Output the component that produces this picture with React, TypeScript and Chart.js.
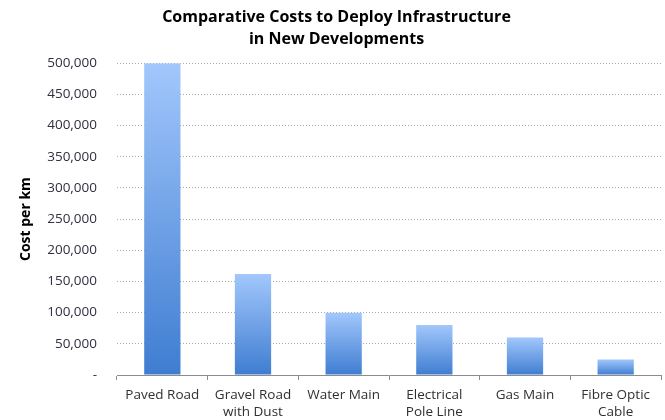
import React, { useEffect, useRef } from "react";
import { Chart, registerables } from "chart.js";

Chart.register(...registerables);

const categories: string[][] = [
  ["Paved Road"],
  ["Gravel Road", "with Dust"],
  ["Water Main"],
  ["Electrical", "Pole Line"],
  ["Gas Main"],
  ["Fibre Optic", "Cable"],
];
const costPerKm: number[] = [500000, 162000, 100000, 80000, 60000, 25000];
const titleLines: string[] = ["Comparative Costs to Deploy Infrastructure", "in New Developments"];
const yAxisTitle = "Cost per km";
const yMax = 500000;
const yStep = 50000;

const FONT = "'Open Sans', Lato, 'DejaVu Sans', sans-serif";

export default function App() {
  const ref = useRef<HTMLCanvasElement | null>(null);

  useEffect(() => {
    document.body.style.margin = "0";
    const canvas = ref.current;
    if (!canvas) return;
    const chart = new Chart(canvas, {
      type: "bar",
      data: {
        labels: categories,
        datasets: [
          {
            data: costPerKm,
            backgroundColor: (ctx: any) => {
              const top = "#a2c7fc";
              const bot = "#3f7dd1";
              if (ctx.type !== "data") return top;
              const c = ctx.chart;
              const y = c.scales && c.scales.y;
              if (!y) return top;
              const yTop = y.getPixelForValue(ctx.raw);
              const yBot = y.getPixelForValue(0);
              if (!isFinite(yTop) || !isFinite(yBot) || yTop === yBot) return top;
              const g = c.ctx.createLinearGradient(0, yTop, 0, yBot);
              g.addColorStop(0, top);
              g.addColorStop(1, bot);
              return g;
            },
            borderWidth: 0,
            barPercentage: 0.4,
            categoryPercentage: 1,
          },
        ],
      },
      options: {
        responsive: false,
        animation: false,
        layout: { padding: { top: 2, left: 12, right: 4, bottom: 0 } },
        plugins: {
          legend: { display: false },
          tooltip: { enabled: false },
          title: {
            display: true,
            text: titleLines,
            color: "#000",
            font: { family: FONT, size: 16, weight: "bold", lineHeight: 1.35 },
            padding: { top: 5, bottom: 13 },
          },
        },
        scales: {
          x: {
            offset: true,
            grid: {
              offset: true,
              drawOnChartArea: false,
              drawTicks: true,
              tickLength: 5,
              color: "#8c8c8c",
            },
            border: { display: true, color: "#8c8c8c" },
            ticks: {
              color: "#303030",
              font: { family: FONT, size: 13.5, lineHeight: 1.25 },
              padding: 7,
              maxRotation: 0,
              autoSkip: false,
            },
            afterFit: (s: any) => {
              s.height = 45;
            },
          },
          y: {
            min: 0,
            max: yMax,
            grid: { drawTicks: false, color: "#a8a8a8", lineWidth: 1 },
            border: { display: false, dash: [1, 2] },
            ticks: {
              stepSize: yStep,
              color: "#303040",
              font: { family: FONT, size: 13.5 },
              padding: 20,
              callback: (v: any) => (Number(v) === 0 ? "-" : Number(v).toLocaleString("en-US")),
            },
            title: {
              display: true,
              text: yAxisTitle,
              color: "#000",
              font: { family: FONT, size: 14, weight: "bold", lineHeight: 1.2 },
              padding: { top: 6, bottom: 0 },
            },
            afterFit: (s: any) => {
              s.width = 105;
            },
          },
        },
      } as any,
    });
    return () => chart.destroy();
  }, []);

  return (
    <div style={{ width: 665, height: 420 }}>
      <canvas ref={ref} width={665} height={420} style={{ display: "block", width: 665, height: 420 }} />
    </div>
  );
}
